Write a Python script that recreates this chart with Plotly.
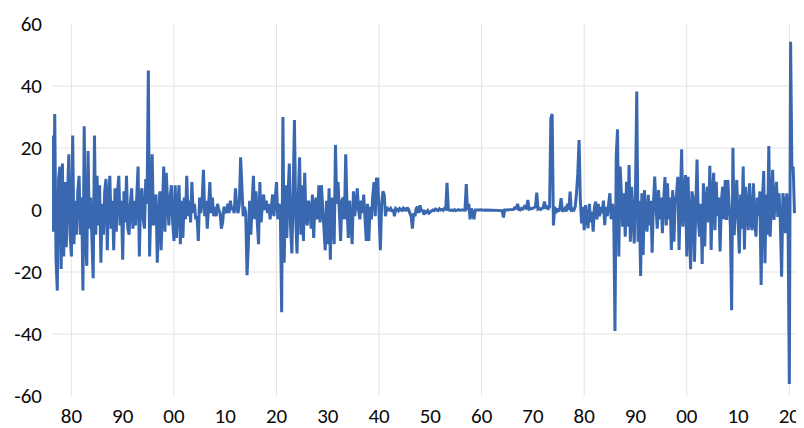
import pandas as pd
import plotly.graph_objects as go

# Quarterly values (first point: 1876 Q2)
vals_1876_1899 = [
    24, -7, 31,
    -16, -26, 10, 14,
    -19, 15, -15, 9,
    -12, 5, 18, -8,
    -15, 24, -11, 3,
    -8, 6, 11, -8,
    4, -26, 27, -10,
    -18, 19, -6, 4,
    -8, -22, 24, -8,
    11, -5, 8, -17,
    2, -8, 6, 10,
    -13, 4, 11, -6,
    3, -13, 7, -7,
    6, 11, -5, 3,
    -16, 6, -4, 11,
    -6, -8, 2, 7,
    -6, 3, -5, 4,
    14, -15, 4, 7,
    -3, -6, 10, 2,
    45, -15, 3, 18,
    -5, 3, 5, -17,
    -3, 6, -13, 2,
    14, -7, 12, 3,
    -5, 4, 8, -4,
]
vals_1900_1920 = [
    -10, 8, -9, 2,
    8, -11, 3, -9,
    4, -3, 11, -2,
    3, -4, 9, -1,
    2, -3, -2, -10,
    4, -1, 3, 13,
    -2, 3, -6, 1,
    9, -1, 4, -2,
    1, -2, 2, 0,
    -1, -6, -4, 1,
    0, -1, 2, -1,
    3, 0, 1, -1,
    7, 1, -1, 2,
    17, 4, -2, 1,
    -1, -21, -12, 3,
    -8, 2, 11, -3,
    6, -4, -11, 9,
    -4, 2, 5, 0,
    3, -1, 2, -3,
    2, 5, -2, 3,
    9, -3, 2, -1,
]
vals_1921_1941 = [
    -33, 30, -17, 8,
    -9, 5, 15, -6,
    -14, 6, 29, -3,
    -14, 4, 17, -8,
    8, -10, 12, -3,
    -5, 3, 1, -6,
    5, -9, 2, 4,
    -3, 8, -4, 8,
    2, -6, -13, 3,
    -11, 7, -16, 4,
    -3, -11, 21, 2,
    9, -4, -10, 3,
    4, -3, 18, 1,
    -9, 3, -4, -11,
    6, -2, 2, 7,
    0, -3, 3, -1,
    5, -4, -10, 2,
    -10, 1, -3, 4,
    9, -2, 10, 10,
    -4, -13, 2, 6,
    5, -2, 1, 0,
]
vals_1942_1972 = [
    0, 0.5, -0.5, 0.3,
    -2, 0.5, 0.2, -0.3,
    0.5, 0.2, -0.4, 0.6,
    0.3, -0.3, 0.8, 0.2,
    -1, -2, -6, -1,
    -2, 0.5, 1, -1,
    1.5, -0.5, 0, -1.5,
    -0.5, -0.8, -0.2, -1,
    -0.6, -0.3, 0, -0.2,
    0.3, 0, -0.2, 0.4,
    0, 0.2, -0.1, 0.5,
    0.3, 8.8, 0.2, -0.1,
    0, 0, -0.2, 0.1,
    -0.2, 0, 0.1, -0.1,
    0, -0.1, 0.1, 0,
    8.4, 0, 2, -3,
    0.5, -1, -3, 0,
    0, -0.2, 0, 0.1,
    0, -0.1, -0.1, 0,
    0, 0, -0.1, 0,
    -0.1, 0, 0, -0.1,
    0, 0, 0, -0.1,
    -0.2, -2.4, 0, 0,
    0, 0.1, 0, 0,
    0, 0.2, 1, 0.3,
    2, 0.2, 0, 0.5,
    0.3, 0.8, 1.5, 0.2,
    3.2, 0.3, 0.5, 0.4,
    0.5, 0.8, 1, 5.6,
    0.3, 0.5, 0.2, 0.6,
    0.8, 2.7, 0.4, 1,
]
vals_1973_1998 = [
    0.5, 1, 29.6, 31,
    -5, 1, -1, 0.5,
    -0.5, 0.5, 3.8, -0.5,
    0, 0.5, -0.5, 2,
    0, 5.9, -0.5, 0.3,
    0, 1, 5.4, 11.8,
    22.6, 3, -4.3, 1,
    -6.5, 1.6, -3, -5.9,
    2, -4, -0.5, -7,
    1, 2.7, -3, 2,
    -2, 1, -1, 3,
    -4.9, 1, -2, 3,
    5.4, -3, 2, -1,
    -39, 17.5, 26, -15,
    14, 5.4, -5.4, 5.4,
    -8.6, 9.1, -5.4, 14.5,
    -10.2, 7.5, -4, -10.8,
    6, 38.2, -10.2, 3,
    -21.3, 5.4, -14.5, 6.4,
    -3, -7, 4.9, -5,
    3, -13.8, 2, 10.8,
    1.1, -6, 6.4, -3,
    4, -7.5, 3, 10.6,
    -5, 8.6, -3, 4,
    -12.9, 6.4, -10.2, 3,
    5, 10.7, -12.9, 4,
]
vals_1999_2021 = [
    19.6, -5.4, 5.4, 11.3,
    -15, 10.7, -5, -19.1,
    6, 3.8, -16.7, 4,
    16.3, -3, -8.6, 2,
    -17.4, 8.6, -11.8, 3,
    7.5, -4, 14.3, -12.9,
    5, 12, -6.5, 9.1,
    -2, 4, -13.4, 3,
    7.5, -3, 9.7, -3.2,
    9.7, 2, -5, -32.3,
    20.1, -8.1, 4, 9.7,
    -3, -14, 5, -6,
    14, -12.7, 7.5, -2,
    -6.5, 8.6, -4, -6.5,
    8.6, -3, -8.6, 4,
    -2, 6, -24.2, 3,
    12.6, -17.2, 5, -8,
    20.6, -8.6, 4, 13,
    -3.2, 4, 9.1, -2.2,
    5.4, -4, -21.5, 5.4,
    2, -7.5, 5.4, -3.2,
    -56.1, 54.3, 13, 14,
    -1,
]

tick_years = list(range(1880, 2021, 10))
tick_labels = ["80", "90", "00", "10", "20", "30", "40", "50", "60", "70",
               "80", "90", "00", "10", "20"]
grid_years = list(range(1880, 2021, 20))
grid_values = [-40, -20, 0, 20, 40]
y_ticks = [-60, -40, -20, 0, 20, 40, 60]
y_labels = ["-60", "-40", "-20", "0", "20", "40", "60"]

values = (vals_1876_1899 + vals_1900_1920 + vals_1921_1941 + vals_1942_1972
          + vals_1973_1998 + vals_1999_2021)
dates = pd.date_range("1876-04-01", periods=len(values), freq="QS")

fig = go.Figure()
fig.add_trace(go.Scatter(
    x=dates, y=values, mode="lines",
    line=dict(color="#3968B0", width=3),
    hoverinfo="skip", showlegend=False,
))

shapes = []
for gy in grid_years:
    shapes.append(dict(type="line", xref="x", yref="paper",
                       x0=pd.Timestamp(f"{gy}-01-01"), x1=pd.Timestamp(f"{gy}-01-01"),
                       y0=0, y1=1, layer="below",
                       line=dict(color="#E3E3E3", width=1)))
for gv in grid_values:
    shapes.append(dict(type="line", xref="paper", yref="y",
                       x0=0, x1=1, y0=gv, y1=gv, layer="below",
                       line=dict(color="#E3E3E3", width=1)))

font_family = "Calibri, Carlito, Lato, sans-serif"
fig.update_layout(
    width=796, height=420,
    margin=dict(l=44, r=8, t=16, b=32),
    paper_bgcolor="white", plot_bgcolor="white",
    shapes=shapes,
    font=dict(family=font_family, size=21, color="#0a0a0a"),
    xaxis=dict(
        range=[pd.Timestamp("1876-03-20"), pd.Timestamp("2021-04-20")],
        tickvals=[pd.Timestamp(f"{y}-01-01") for y in tick_years],
        ticktext=tick_labels,
        showgrid=False, zeroline=False, showline=False, ticks="",
        ticklabelstandoff=5, automargin=False,
    ),
    yaxis=dict(
        range=[-60, 60], tickvals=y_ticks, ticktext=y_labels,
        showgrid=False, zeroline=False, showline=False, ticks="",
        ticklabelstandoff=9, automargin=False,
    ),
)

fig.write_html("out.html")
